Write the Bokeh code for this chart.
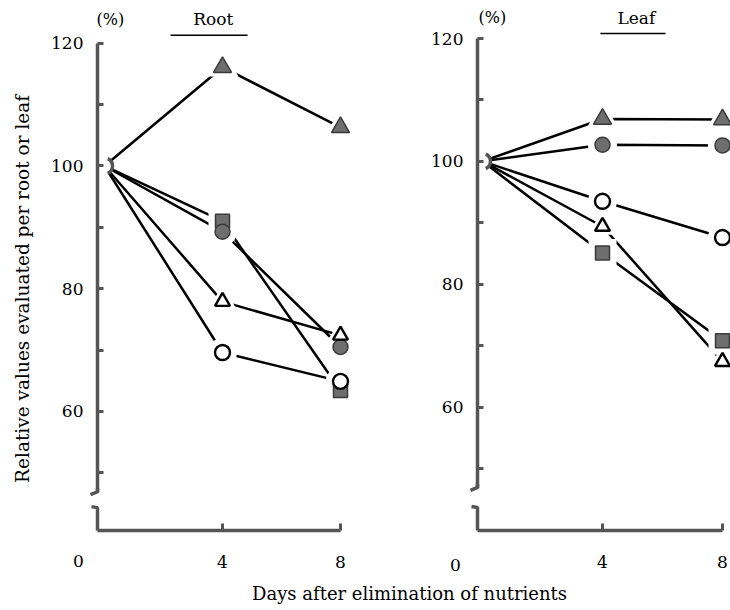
import math
from bokeh.plotting import figure
from bokeh.layouts import row, column
from bokeh.models import FixedTicker, Label
from bokeh.core.properties import value
from bokeh.embed import file_html
from bokeh.resources import INLINE

# ---------------- data ----------------
days = [0, 4, 8]

root_filled_triangle = [100, 116.1, 106.3]
root_filled_square = [100, 91.0, 63.4]
root_filled_circle = [100, 89.3, 70.5]
root_open_triangle = [100, 77.9, 72.4]
root_open_circle = [100, 69.6, 64.9]

leaf_filled_triangle = [100, 106.9, 106.8]
leaf_filled_circle = [100, 102.7, 102.6]
leaf_open_circle = [100, 93.5, 87.6]
leaf_open_triangle = [100, 89.4, 67.4]
leaf_filled_square = [100, 85.1, 70.8]

y_major = [60, 80, 100, 120]
y_minor = [50, 70, 90, 110]
x_ticks = [4, 8]

FONT = "DejaVu Serif"
AX = "#555555"
FILL = "#6e6e6e"
EDGE = "#3a3a3a"


def make_panel(series, width, border_left, px_x, px_y, x_start, y_end,
               frame_h, border_bottom):
    x_end = x_start + (width - border_left) / px_x
    y_start = y_end - frame_h / px_y
    p = figure(width=width, height=frame_h + border_bottom,
               x_range=(x_start, x_end), y_range=(y_start, y_end),
               output_backend="svg", toolbar_location=None,
               min_border_left=border_left, min_border_right=0,
               min_border_top=0, min_border_bottom=border_bottom)
    p.grid.visible = False
    p.outline_line_color = None

    # y axis
    ya = p.yaxis[0]
    ya.ticker = FixedTicker(ticks=y_major, minor_ticks=y_minor)
    ya.bounds = (46.75, 120)
    ya.axis_line_color = AX
    ya.axis_line_width = 3.5
    ya.major_tick_in = 6
    ya.major_tick_out = 0
    ya.minor_tick_in = 6
    ya.minor_tick_out = 0
    ya.major_tick_line_color = AX
    ya.minor_tick_line_color = AX
    ya.major_tick_line_width = 3
    ya.minor_tick_line_width = 3
    ya.major_label_text_font = FONT
    ya.major_label_text_font_size = "17px"
    ya.major_label_text_color = "black"
    ya.major_label_standoff = 14

    # x axis
    xa = p.xaxis[0]
    xa.ticker = FixedTicker(ticks=x_ticks)
    xa.bounds = (x_start, 8)
    xa.axis_line_color = AX
    xa.axis_line_width = 3.5
    xa.major_tick_in = 7
    xa.major_tick_out = 0
    xa.minor_tick_in = 0
    xa.minor_tick_out = 0
    xa.major_tick_line_color = AX
    xa.major_tick_line_width = 3
    xa.major_label_text_font = FONT
    xa.major_label_text_font_size = "17px"
    xa.major_label_text_color = "black"
    xa.major_label_standoff = 25

    dx = 1.0 / px_x
    dy = 1.0 / px_y

    # axis break pieces
    brk = p.multi_line(
        xs=[[x_start, x_start, x_start - 7 * dx],
            [x_start - 6 * dx, x_start, x_start]],
        ys=[[47.5, 46.75 + 1 * dy, 46.75 - 2 * dy],
            [y_start + 24 * dy, y_start + 23 * dy, y_start]],
        line_color=AX, line_width=3.5)
    brk.level = "overlay"

    # lines
    for vals, marker, filled, size in series:
        p.line(days, vals, line_color="black", line_width=2.5)
    # white halos to break lines near markers
    for vals, marker, filled, size in series:
        p.scatter(days[1:], vals[1:], marker=marker, size=size + 14,
                  fill_color="white", line_color=None)
    p.scatter([days[0]], [100], marker="circle", size=15,
              fill_color="white", line_color=None)
    # markers
    for vals, marker, filled, size in series:
        if filled:
            p.scatter(days[1:], vals[1:], marker=marker, size=size,
                      fill_color=FILL, line_color=EDGE, line_width=1.5)
        else:
            p.scatter(days[1:], vals[1:], marker=marker, size=size,
                      fill_color="white", line_color="black", line_width=2.4)
    # day-0 bracket
    p.arc(x=[days[0]], y=[100], radius=8, radius_units="screen",
          start_angle=-1.15, end_angle=1.15, line_color=AX, line_width=3.5)

    return p, x_start, y_start, dx, dy


root_series = [
    (root_filled_triangle, "triangle", True, 18),
    (root_filled_square, "square", True, 14),
    (root_filled_circle, "circle", True, 15),
    (root_open_triangle, "triangle", False, 15),
    (root_open_circle, "circle", False, 15),
]
leaf_series = [
    (leaf_filled_triangle, "triangle", True, 18),
    (leaf_filled_circle, "circle", True, 15),
    (leaf_open_circle, "circle", False, 15),
    (leaf_open_triangle, "triangle", False, 15),
    (leaf_filled_square, "square", True, 14),
]

# root panel
p1, xs1, ys1, dx1, dy1 = make_panel(
    root_series, width=370, border_left=97, px_x=29.5, px_y=6.171,
    x_start=-7 / 29.5, y_end=120 + 43 / 6.171, frame_h=533, border_bottom=42)
# leaf panel
p2, xs2, ys2, dx2, dy2 = make_panel(
    leaf_series, width=360, border_left=107, px_x=30.0, px_y=6.143,
    x_start=-5 / 30.0, y_end=120 + 38 / 6.143, frame_h=530, border_bottom=45)


def overlay_text(p, x, y, text, size, angle=0.0):
    r = p.text(x=[x], y=[y], text=[text], angle=angle,
               text_font=value(FONT), text_font_size=size,
               text_color="black", text_align="center",
               text_baseline="middle")
    r.level = "overlay"
    return r


def add_texts(p, title, title_x, title_y, ul_x0, ul_x1, ul_y, pct_x, zero_x, zero_y):
    overlay_text(p, title_x, title_y, title, "17px")
    overlay_text(p, pct_x, title_y, "(%)", "16px")
    overlay_text(p, zero_x, zero_y, "0", "17px")
    p.line([ul_x0, ul_x1], [ul_y, ul_y], line_color="black", line_width=1.5)


add_texts(p1, "Root", 3.69, 123.9, 2.24, 4.85, 121.3, 0.20,
          xs1 - 19 * dx1, ys1 - 31 * dy1)
add_texts(p2, "Leaf", 5.13, 123.4, 3.93, 6.1, 120.8, 0.33,
          xs2 - 22 * dx2, ys2 - 34 * dy2)

# y-axis title (shared, drawn on the root panel's left border)
overlay_text(p1, xs1 - 75 * dx1, 120 - 247 * dy1,
             "Relative values evaluated per root or leaf", "18.5px",
             angle=math.pi / 2)

# bottom strip with the shared x-axis title
p3 = figure(width=730, height=35, x_range=(0, 730), y_range=(0, 35),
            output_backend="svg", toolbar_location=None,
            min_border=0)
p3.xaxis.visible = False
p3.yaxis.visible = False
p3.grid.visible = False
p3.outline_line_color = None
p3.add_layout(Label(x=409, y=17, text="Days after elimination of nutrients",
                    text_font=FONT, text_font_size="18px", text_color="black",
                    text_align="center", text_baseline="middle"))

layout = column(row(p1, p2), p3)
open("out.html", "w").write(file_html(layout, INLINE))
